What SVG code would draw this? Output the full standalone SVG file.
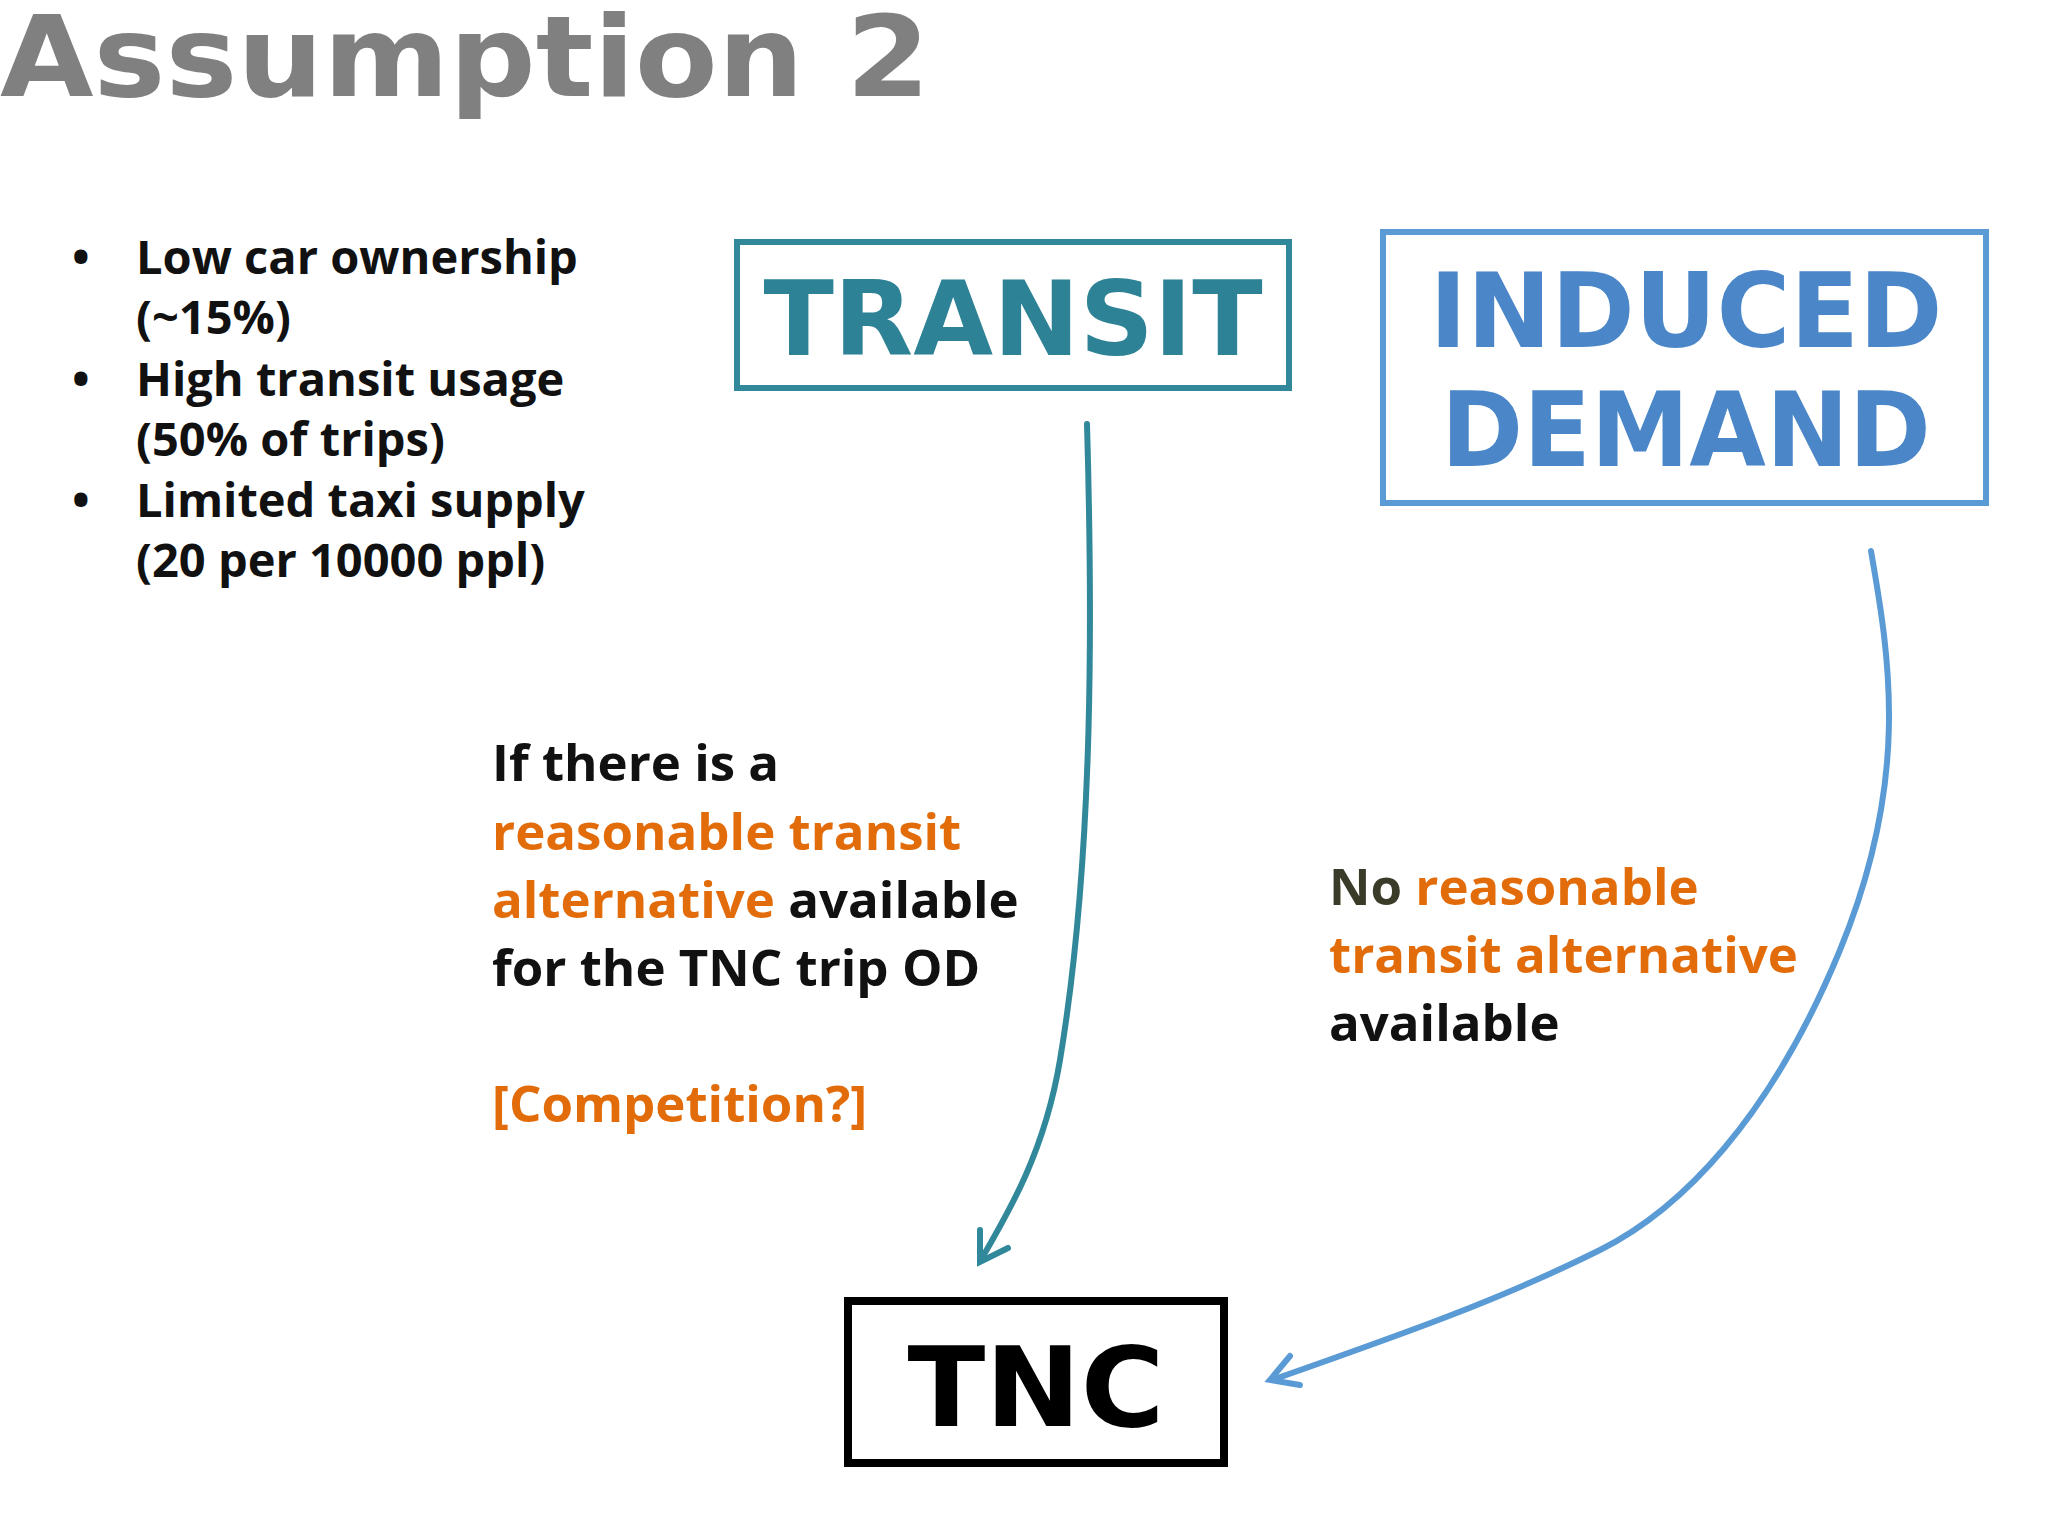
<svg xmlns="http://www.w3.org/2000/svg" width="2048" height="1536" viewBox="0 0 2048 1536">
<style>
.b{font-family:"Open Sans","Liberation Sans",sans-serif;font-weight:700;font-size:47px;fill:#111}
.m{font-family:"Open Sans","Liberation Sans",sans-serif;font-weight:700;font-size:51px;fill:#111}
.o{fill:#E36C0A}
.h{font-family:"DejaVu Sans","Liberation Sans",sans-serif;font-weight:bold;text-anchor:middle}
</style>
<rect width="2048" height="1536" fill="#fff"/>
<text x="0" y="96" font-family="DejaVu Sans,sans-serif" font-weight="900" font-size="112" fill="#808080" textLength="930" lengthAdjust="spacingAndGlyphs">Assumption 2</text>
<g id="bullets" class="b">
<text x="72" y="274">•</text><text x="136" y="274">Low car ownership</text>
<text x="136" y="334">(~15%)</text>
<text x="72" y="396">•</text><text x="136" y="396">High transit usage</text>
<text x="136" y="456">(50% of trips)</text>
<text x="72" y="517">•</text><text x="136" y="517">Limited taxi supply</text>
<text x="136" y="577">(20 per 10000 ppl)</text>
</g>
<g id="transit">
<rect x="737" y="242" width="552" height="146" fill="none" stroke="#31889A" stroke-width="6"/>
<text class="h" x="1013" y="355" font-size="104" fill="#2E8296" textLength="499" lengthAdjust="spacingAndGlyphs">TRANSIT</text>
</g>
<g id="induced">
<rect x="1383" y="232" width="603" height="271" fill="none" stroke="#5B9BD5" stroke-width="6"/>
<text class="h" x="1686" y="347" font-size="104" fill="#4A86C8" textLength="513" lengthAdjust="spacingAndGlyphs">INDUCED</text>
<text class="h" x="1686" y="466" font-size="104" fill="#4A86C8" textLength="490" lengthAdjust="spacingAndGlyphs">DEMAND</text>
</g>
<g id="tnc">
<rect x="848" y="1301" width="376" height="162" fill="none" stroke="#000" stroke-width="8"/>
<text class="h" x="1036" y="1426" font-size="110" fill="#000" textLength="257" lengthAdjust="spacingAndGlyphs">TNC</text>
</g>
<g id="connectors" fill="none" stroke-width="6" stroke-linecap="round">
<path d="M1087,424 C1092,600 1095,850 1060,1060 C1045,1150 1010,1210 982,1258" stroke="#31889A"/>
<path d="M980,1230 L980,1262 L1008,1248" stroke="#31889A"/>
<path d="M1871,551 C1890,660 1910,780 1840,950 C1770,1120 1680,1210 1600,1250 C1500,1300 1400,1335 1272,1380" stroke="#5B9BD5"/>
<path d="M1290,1356 L1270,1380 L1300,1385" stroke="#5B9BD5"/>
</g>
<g id="label1" class="m">
<text x="492" y="781">If there is a</text>
<text x="492" y="850" class="m o">reasonable transit</text>
<text x="492" y="918"><tspan class="o">alternative</tspan> available</text>
<text x="492" y="986">for the TNC trip OD</text>
<text x="492" y="1122" class="m o">[Competition?]</text>
</g>
<g id="label2" class="m">
<text x="1329" y="905"><tspan fill="#3B3B2A">No</tspan> <tspan class="o">reasonable</tspan></text>
<text x="1329" y="973" class="m o">transit alternative</text>
<text x="1329" y="1041">available</text>
</g>
</svg>
